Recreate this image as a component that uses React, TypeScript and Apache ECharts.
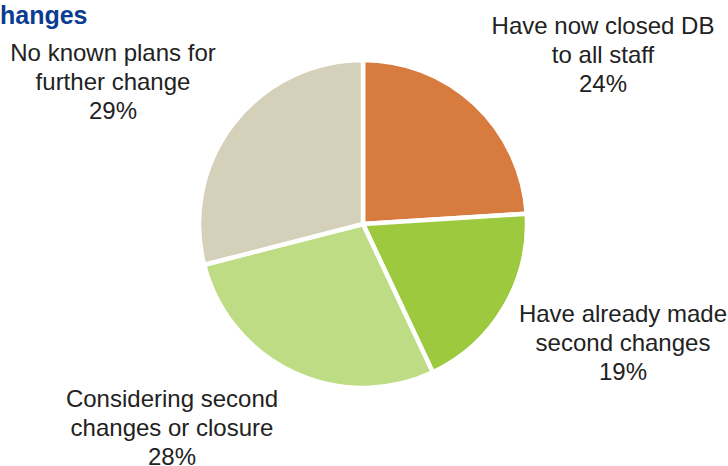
import React, { useEffect, useRef } from "react";
import * as echarts from "echarts";

const categories = [
  "Have now closed DB\nto all staff",
  "Have already made\nsecond changes",
  "Considering second\nchanges or closure",
  "No known plans for\nfurther change",
];
const values = [24, 19, 28, 29];
const colors = ["#D87B3F", "#9DC93E", "#BEDC84", "#D5D0B9"];
const titleText = "hanges";

// label anchor positions (styling, not data)
const labelPos = [
  [603, 54],
  [623, 342],
  [172, 427],
  [113, 81],
];

export default function App() {
  const ref = useRef<HTMLDivElement>(null);
  useEffect(() => {
    if (!ref.current) return;
    const chart = echarts.init(ref.current, null, { renderer: "svg" });
    chart.setOption({
      animation: false,
      backgroundColor: "#ffffff",
      title: {
        text: titleText,
        left: 0,
        top: 2,
        padding: 0,
        textStyle: {
          fontFamily: "Liberation Sans",
          fontWeight: "bold",
          fontSize: 25,
          color: "#0B3C91",
        },
      },
      series: [
        {
          type: "pie",
          center: [363, 224],
          radius: 164,
          startAngle: 90,
          clockwise: true,
          data: categories.map((c, i) => ({
            name: c,
            value: values[i],
            itemStyle: { color: colors[i] },
          })),
          itemStyle: { borderColor: "#ffffff", borderWidth: 4.5 },
          label: {
            show: true,
            formatter: "{b}\n{c}%",
            fontFamily: "Liberation Sans",
            fontSize: 24,
            lineHeight: 29,
            color: "#222222",
            align: "center",
            overflow: "none",
          },
          labelLine: { show: false },
          labelLayout: (params: any) => {
            const p = labelPos[params.dataIndex];
            return { x: p[0], y: p[1], align: "center", verticalAlign: "middle", width: 400 };
          },
          emphasis: { disabled: true },
        },
      ],
    });
    return () => chart.dispose();
  }, []);
  return (
    <div
      ref={ref}
      style={{ position: "fixed", left: 0, top: 0, width: 728, height: 466 }}
    />
  );
}
